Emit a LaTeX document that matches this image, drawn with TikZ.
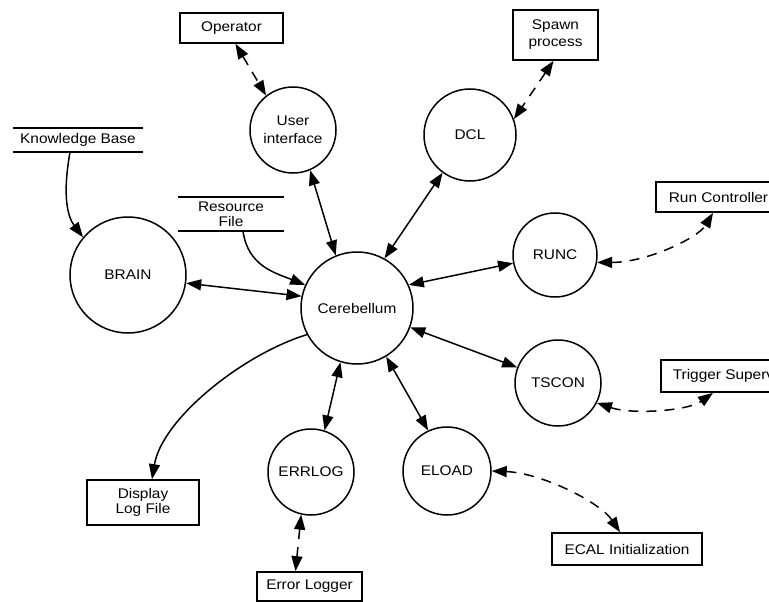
\documentclass[tikz,border=0pt]{standalone}
\usepackage{fontspec}
\setmainfont{Liberation Sans}[FakeStretch=1.1]
\usetikzlibrary{arrows.meta}
\begin{document}
\begin{tikzpicture}[x=1pt,y=1pt,
  font=\fontsize{14}{15}\selectfont,
  >={Triangle[length=15pt,width=11pt]},
  proc/.style={circle,draw,line width=1.5pt,inner sep=0pt,align=center},
  ext/.style={rectangle,draw,line width=1.7pt,inner sep=0pt,align=center},
  store/.style={inner sep=0pt,align=center},
  flow/.style={line width=1.5pt,<->},
  oneway/.style={line width=1.5pt,->},
  extlink/.style={flow,dash pattern=on 10pt off 8pt}]
\clip (0,0) rectangle (769,-602);
\fill[white] (0,0) rectangle (769,-602);

% processes
\node[proc,minimum size=86pt] (ui) at (293,-130) {User\\[3pt]interface};
\node[proc,minimum size=92pt] (dcl) at (470,-135) {DCL};
\node[proc,minimum size=116pt] (brain) at (128,-275) {BRAIN};
\node[proc,minimum size=112pt] (cereb) at (357,-308) {Cerebellum};
\node[proc,minimum size=84pt] (runc) at (555,-255) {RUNC};
\node[proc,minimum size=86pt] (tscon) at (558,-383) {TSCON};
\node[proc,minimum size=88pt] (eload) at (447,-471) {ELOAD};
\node[proc,minimum size=86pt] (errlog) at (311,-472) {ERRLOG};

% external entities
\node[ext,minimum width=103pt,minimum height=30pt] (operator) at (231.5,-28) {Operator};
\node[ext,minimum width=85pt,minimum height=50pt] (spawn) at (555.5,-35) {Spawn\\[2pt]process};
\node[ext,anchor=west,inner xsep=13pt,minimum height=30pt] (runctl) at (655,-197) {Run Controller};
\node[ext,anchor=west,inner xsep=12pt,minimum height=32pt] (trigger) at (660,-376) {Trigger Supervisor};
\node[ext,minimum width=150pt,minimum height=32pt] (ecal) at (627,-549) {ECAL Initialization};
\node[ext,minimum width=105pt,minimum height=29pt] (errlogger) at (309.5,-586.5) {Error Logger};
\node[ext,minimum width=112pt,minimum height=45pt] (display) at (143,-502.5) {Display\\Log File};

% data stores
\node[store,minimum width=130pt,minimum height=24pt] (kb) at (78,-140) {Knowledge Base};
\node[store,minimum width=106pt,minimum height=34pt] (res) at (231,-214) {Resource\\File};
\draw[line width=1.7pt] (kb.north west) -- (kb.north east) (kb.south west) -- (kb.south east);
\draw[line width=1.7pt] (res.north west) -- (res.north east) (res.south west) -- (res.south east);

% flows
\draw[oneway] ([xshift=-8pt]kb.south) .. controls +(-8,-45) and +(-15,20) .. (brain.140);
\draw[oneway] ([xshift=12pt]res.south) .. controls +(5,-35) and +(-30,12) .. (cereb.156);
\draw[flow] (brain.-8) -- (cereb.168);
\draw[flow] (ui.-67) -- (cereb.112);
\draw[flow] (dcl.-126) -- (cereb.61);
\draw[flow] (runc.191) -- (cereb.24);
\draw[flow] (tscon.159) -- (cereb.-20);
\draw[flow] (eload.115) -- (cereb.-59);
\draw[flow] (errlog.72) -- (cereb.-107);
\draw[oneway] (cereb.-152) .. controls +(-65,-20) and +(10,60) .. ([xshift=9pt]display.north);

% external links
\draw[extlink] ([xshift=4pt]operator.south) -- (ui.128);
\draw[extlink] ([xshift=-2pt]spawn.south) -- (dcl.20);
\draw[extlink] (runc.-10) .. controls +(50,0) and +(-15,-25) .. ([xshift=58pt]runctl.south west);
\draw[extlink] (tscon.-27) .. controls +(35,-12) and +(-25,-18) .. ([xshift=53pt]trigger.south west);
\draw[extlink] (eload.0) .. controls +(50,-2) and +(-20,30) .. ([xshift=-7pt]ecal.north);
\draw[extlink] (errlog.-103) -- ([xshift=-14pt]errlogger.north);
\end{tikzpicture}
\end{document}
